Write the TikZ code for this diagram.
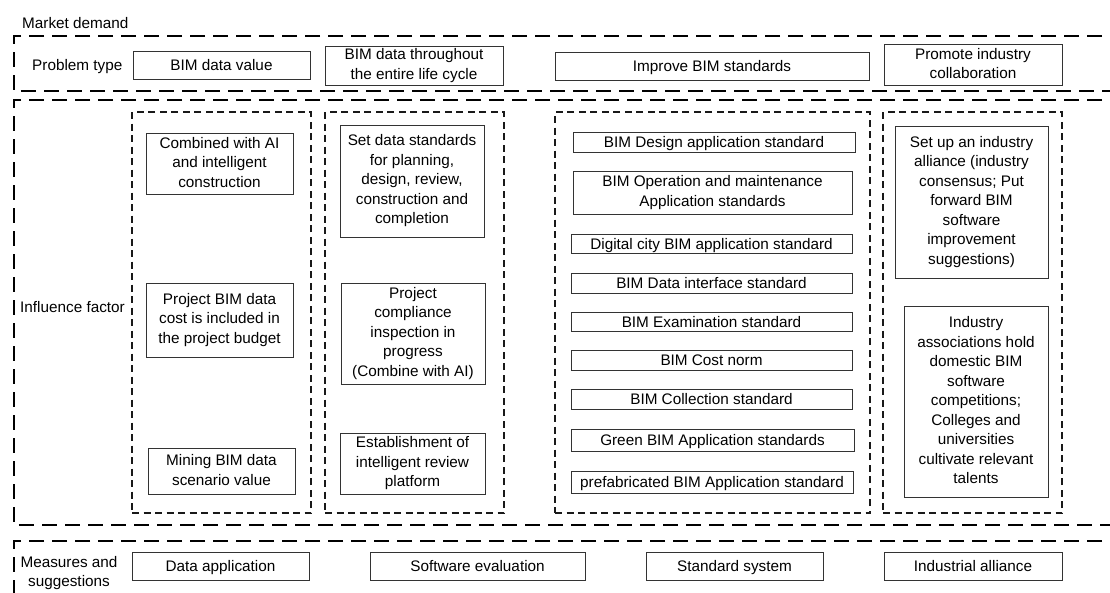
\documentclass[tikz,border=0pt]{standalone}
\usepackage{fontspec}
\setmainfont{Liberation Sans}
\newcommand\boxstrut{\rule[-2.4pt]{0pt}{16.6pt}}
\begin{document}
\begin{tikzpicture}[x=1pt,y=-1pt,
  font=\fontsize{15.3}{19.5}\selectfont,
  box/.style={draw=black!80, line width=1pt, inner sep=0pt, align=center,
    execute at begin node=\boxstrut, execute at end node=\boxstrut},
  grp/.style={draw=black!90, line width=1.2pt, dash pattern=on 7pt off 4.5pt, inner sep=0pt},
  zone/.style={draw=black, line width=2.9pt, dash pattern=on 15pt off 8pt},
  lbl/.style={inner sep=0pt, align=center}]
\useasboundingbox (0,0) rectangle (1110,592);
\clip (0,0) rectangle (1110,592);

% zones
\coordinate (z1a) at (1125,36); \coordinate (z1b) at (14,36);
\coordinate (z1c) at (14,91);  \coordinate (z1d) at (1125,91);
\draw[zone] (z1a) -- (z1b) -- (z1c) -- (z1d);
\coordinate (z2a) at (1125,100); \coordinate (z2b) at (14,100);
\coordinate (z2c) at (14,525);  \coordinate (z2d) at (1125,525);
\draw[zone] (z2a) -- (z2b) -- (z2c) -- (z2d);
\coordinate (z3a) at (1125,541); \coordinate (z3b) at (14,541);
\coordinate (z3c) at (14,600);
\draw[zone] (z3a) -- (z3b) -- (z3c);

% labels
\node[lbl, anchor=west] (md) at (22,23) {Market demand};
\node[lbl, anchor=west] (ptl) at (32,66.5) {Problem type};
\node[lbl, anchor=west] (ifl) at (20,307) {Influence factor};
\node[lbl] (msl) at (69,573) {Measures and\\suggestions};

% problem type row
\node[box, minimum width=177pt, minimum height=28pt] (p1) at (221.5,65) {BIM data value};
\node[box, minimum width=178pt, minimum height=39pt] (p2) at (414,65.5) {BIM data throughout\\the entire life cycle};
\node[box, minimum width=314pt, minimum height=28pt] (p3) at (712,66) {Improve BIM standards};
\node[box, minimum width=178pt, minimum height=41pt] (p4) at (973,64.5) {Promote industry\\collaboration};

% groups
\node[grp, minimum width=179pt, minimum height=401pt] (g1) at (221.5,312.5) {};
\node[grp, minimum width=179pt, minimum height=401pt] (g2) at (414.5,312.5) {};
\node[grp, minimum width=315pt, minimum height=401pt] (g3) at (712.5,312.5) {};
\node[grp, minimum width=179pt, minimum height=401pt] (g4) at (972.5,312.5) {};

% column 1
\node[box, minimum width=147pt, minimum height=61pt] (a1) at (219.5,163.5) {Combined with AI\\and intelligent\\construction};
\node[box, minimum width=147pt, minimum height=74pt] (a2) at (219.5,320) {Project BIM data\\cost is included in\\the project budget};
\node[box, minimum width=147pt, minimum height=46pt] (a3) at (221.5,471) {Mining BIM data\\scenario value};

% column 2
\node[box, minimum width=144pt, minimum height=112pt] (b1) at (412,181) {Set data standards\\for planning,\\design, review,\\construction and\\completion};
\node[box, minimum width=144pt, minimum height=101pt] (b2) at (413,333.5) {Project\\compliance\\inspection in\\progress\\(Combine with AI)};
\node[box, minimum width=145pt, minimum height=61pt] (b3) at (412.5,463.5) {Establishment of\\intelligent review\\platform};

% column 3
\node[box, minimum width=282pt, minimum height=20pt] (c1) at (714,142) {BIM Design application standard};
\node[box, minimum width=279pt, minimum height=43pt] (c2) at (712.5,192.5) {BIM Operation and maintenance\\Application standards};
\node[box, minimum width=281pt, minimum height=19pt] (c3) at (711.5,243.5) {Digital city BIM application standard};
\node[box, minimum width=281pt, minimum height=20pt] (c4) at (711.5,283) {BIM Data interface standard};
\node[box, minimum width=281pt, minimum height=19pt] (c5) at (711.5,321.5) {BIM Examination standard};
\node[box, minimum width=281pt, minimum height=20pt] (c6) at (711.5,360) {BIM Cost norm};
\node[box, minimum width=281pt, minimum height=20pt] (c7) at (711.5,399) {BIM Collection standard};
\node[box, minimum width=283pt, minimum height=22pt] (c8) at (712.5,440) {Green BIM Application standards};
\node[box, minimum width=282pt, minimum height=22pt] (c9) at (712,482) {prefabricated BIM Application standard};

% column 4
\node[box, minimum width=153pt, minimum height=152pt] (d1) at (971.5,202) {Set up an industry\\alliance (industry\\consensus; Put\\forward BIM\\software\\improvement\\suggestions)};
\node[box, minimum width=144pt, minimum height=191pt] (d2) at (976,401.5) {Industry\\associations hold\\domestic BIM\\software\\competitions;\\Colleges and\\universities\\cultivate relevant\\talents};

% measures row
\node[box, minimum width=177pt, minimum height=28pt] (m1) at (220.5,566) {Data application};
\node[box, minimum width=215pt, minimum height=28pt] (m2) at (477.5,566) {Software evaluation};
\node[box, minimum width=177pt, minimum height=28pt] (m3) at (734.5,566) {Standard system};
\node[box, minimum width=178pt, minimum height=28pt] (m4) at (973,566) {Industrial alliance};
\end{tikzpicture}
\end{document}
